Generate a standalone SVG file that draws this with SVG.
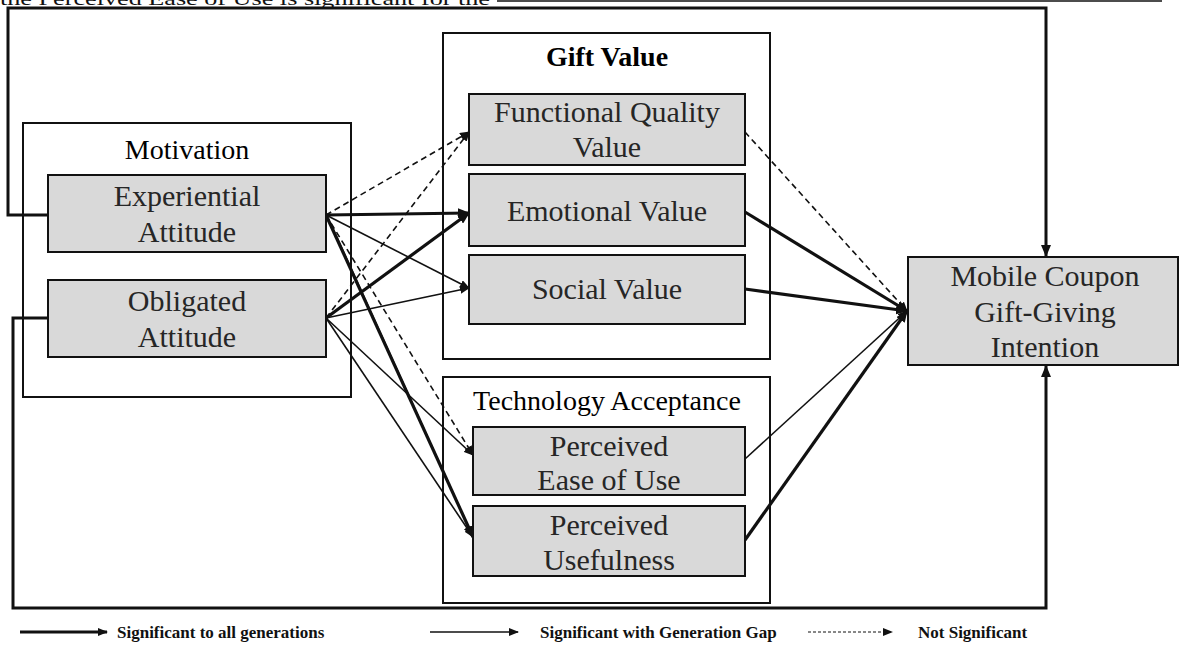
<svg xmlns="http://www.w3.org/2000/svg" width="1180" height="645" viewBox="0 0 1180 645">
  <style>
    .grp { fill: #ffffff; stroke: #111; stroke-width: 2; }
    .node { fill: #d9d9d9; stroke: #111; stroke-width: 2; }
    .ntxt { font-family: "Liberation Serif", "Times New Roman", serif; font-size: 30px; fill: #262626; text-anchor: middle; }
    .gtxt { font-family: "Liberation Serif", "Times New Roman", serif; font-size: 28px; fill: #000; text-anchor: middle; }
    .ltxt { font-family: "Liberation Serif", "Times New Roman", serif; font-size: 17px; font-weight: bold; fill: #111; }
    .thick { fill: none; stroke: #111; stroke-width: 3.2; }
    .thin { fill: none; stroke: #111; stroke-width: 1.6; }
    .dash { fill: none; stroke: #111; stroke-width: 1.6; stroke-dasharray: 6 4; }
    .frame { fill: none; stroke: #111; stroke-width: 3; }
  </style>
  <defs>
    <marker id="ah" markerUnits="userSpaceOnUse" markerWidth="12" markerHeight="10" refX="11" refY="5" orient="auto">
      <path d="M0,0 L12,5 L0,10 z" fill="#111"/>
    </marker>
    <marker id="ahs" markerUnits="userSpaceOnUse" markerWidth="10" markerHeight="8" refX="9" refY="4" orient="auto">
      <path d="M0,0 L10,4 L0,8 z" fill="#111"/>
    </marker>
  </defs>

  <rect width="1180" height="645" fill="#ffffff"/>

  <!-- running text of the page above the figure -->
  <text x="0" y="5" font-family="Liberation Serif, serif" font-size="18" fill="#111" textLength="490" lengthAdjust="spacingAndGlyphs">the Perceived Ease of Use is significant for the</text>
  <line x1="497" y1="1" x2="1162" y2="1" stroke="#111" stroke-width="1.5"/>

  <!-- construct groups -->
  <g id="motivation">
    <rect class="grp" x="23" y="123" width="328" height="274"/>
    <text class="gtxt" x="187" y="159">Motivation</text>
  </g>
  <g id="gift-value">
    <rect class="grp" x="443" y="33" width="327" height="326"/>
    <text class="gtxt" x="607" y="66" font-weight="bold" font-size="27">Gift Value</text>
  </g>
  <g id="technology-acceptance">
    <rect class="grp" x="443" y="377" width="327" height="226"/>
    <text class="gtxt" x="607" y="410">Technology Acceptance</text>
  </g>

  <!-- paths between constructs -->
  <g id="connectors">
    <!-- feedback paths from the motivation nodes to the intention -->
    <path class="frame" d="M48,215 H8 V8 H1046 V256" marker-end="url(#ah)"/>
    <path class="frame" d="M48,318 H13 V608 H1046 V366" marker-end="url(#ah)"/>

    <!-- motivation to gift value -->
    <line class="dash" x1="326" y1="215" x2="469" y2="132" marker-end="url(#ahs)"/>
    <line class="dash" x1="326" y1="318" x2="469" y2="132" marker-end="url(#ahs)"/>
    <line class="thick" x1="326" y1="215" x2="469" y2="213" marker-end="url(#ah)"/>
    <line class="thick" x1="326" y1="318" x2="469" y2="213" marker-end="url(#ah)"/>
    <line class="thin" x1="326" y1="215" x2="469" y2="288" marker-end="url(#ahs)"/>
    <line class="thin" x1="326" y1="318" x2="469" y2="288" marker-end="url(#ahs)"/>

    <!-- motivation to technology acceptance -->
    <line class="dash" x1="326" y1="215" x2="473" y2="455" marker-end="url(#ahs)"/>
    <line class="thin" x1="326" y1="318" x2="473" y2="455" marker-end="url(#ahs)"/>
    <line class="thick" x1="326" y1="215" x2="473" y2="537" marker-end="url(#ah)"/>
    <line class="thin" x1="330" y1="222" x2="473" y2="537"/>
    <line class="thin" x1="326" y1="318" x2="473" y2="537" marker-end="url(#ahs)"/>

    <!-- value and acceptance to intention -->
    <line class="dash" x1="745" y1="132" x2="907" y2="311" marker-end="url(#ahs)"/>
    <line class="thick" x1="745" y1="212" x2="907" y2="311" marker-end="url(#ah)"/>
    <line class="thick" x1="745" y1="289" x2="907" y2="311" marker-end="url(#ah)"/>
    <line class="thin" x1="745" y1="459" x2="907" y2="311" marker-end="url(#ahs)"/>
    <line class="thick" x1="745" y1="540" x2="907" y2="311" marker-end="url(#ah)"/>
  </g>

  <!-- nodes -->
  <g id="experiential-attitude">
    <rect class="node" x="48" y="175" width="278" height="77"/>
    <text class="ntxt" x="187" y="206">Experiential</text>
    <text class="ntxt" x="187" y="242">Attitude</text>
  </g>
  <g id="obligated-attitude">
    <rect class="node" x="48" y="280" width="278" height="77"/>
    <text class="ntxt" x="187" y="311">Obligated</text>
    <text class="ntxt" x="187" y="347">Attitude</text>
  </g>
  <g id="functional-quality-value">
    <rect class="node" x="469" y="94" width="276" height="71"/>
    <text class="ntxt" x="607" y="122">Functional Quality</text>
    <text class="ntxt" x="607" y="157">Value</text>
  </g>
  <g id="emotional-value">
    <rect class="node" x="469" y="174" width="276" height="72"/>
    <text class="ntxt" x="607" y="221">Emotional Value</text>
  </g>
  <g id="social-value">
    <rect class="node" x="469" y="255" width="276" height="69"/>
    <text class="ntxt" x="607" y="299">Social Value</text>
  </g>
  <g id="perceived-ease-of-use">
    <rect class="node" x="473" y="427" width="272" height="68"/>
    <text class="ntxt" x="609" y="456">Perceived</text>
    <text class="ntxt" x="609" y="490">Ease of Use</text>
  </g>
  <g id="perceived-usefulness">
    <rect class="node" x="473" y="506" width="272" height="70"/>
    <text class="ntxt" x="609" y="535">Perceived</text>
    <text class="ntxt" x="609" y="570">Usefulness</text>
  </g>
  <g id="gift-giving-intention">
    <rect class="node" x="908" y="257" width="270" height="108"/>
    <text class="ntxt" x="1045" y="286">Mobile Coupon</text>
    <text class="ntxt" x="1045" y="322">Gift-Giving</text>
    <text class="ntxt" x="1045" y="357">Intention</text>
  </g>

  <!-- legend -->
  <g id="legend">
    <line class="thick" x1="20" y1="632" x2="107" y2="632" marker-end="url(#ahs)"/>
    <text class="ltxt" x="117" y="638">Significant  to all generations</text>
    <line class="thin" x1="430" y1="632" x2="518" y2="632" marker-end="url(#ahs)"/>
    <text class="ltxt" x="540" y="638">Significant  with Generation Gap</text>
    <line x1="808" y1="632" x2="892" y2="632" stroke="#111" stroke-width="1" stroke-dasharray="3 2" marker-end="url(#ahs)"/>
    <text class="ltxt" x="918" y="638">Not Significant</text>
  </g>
</svg>
